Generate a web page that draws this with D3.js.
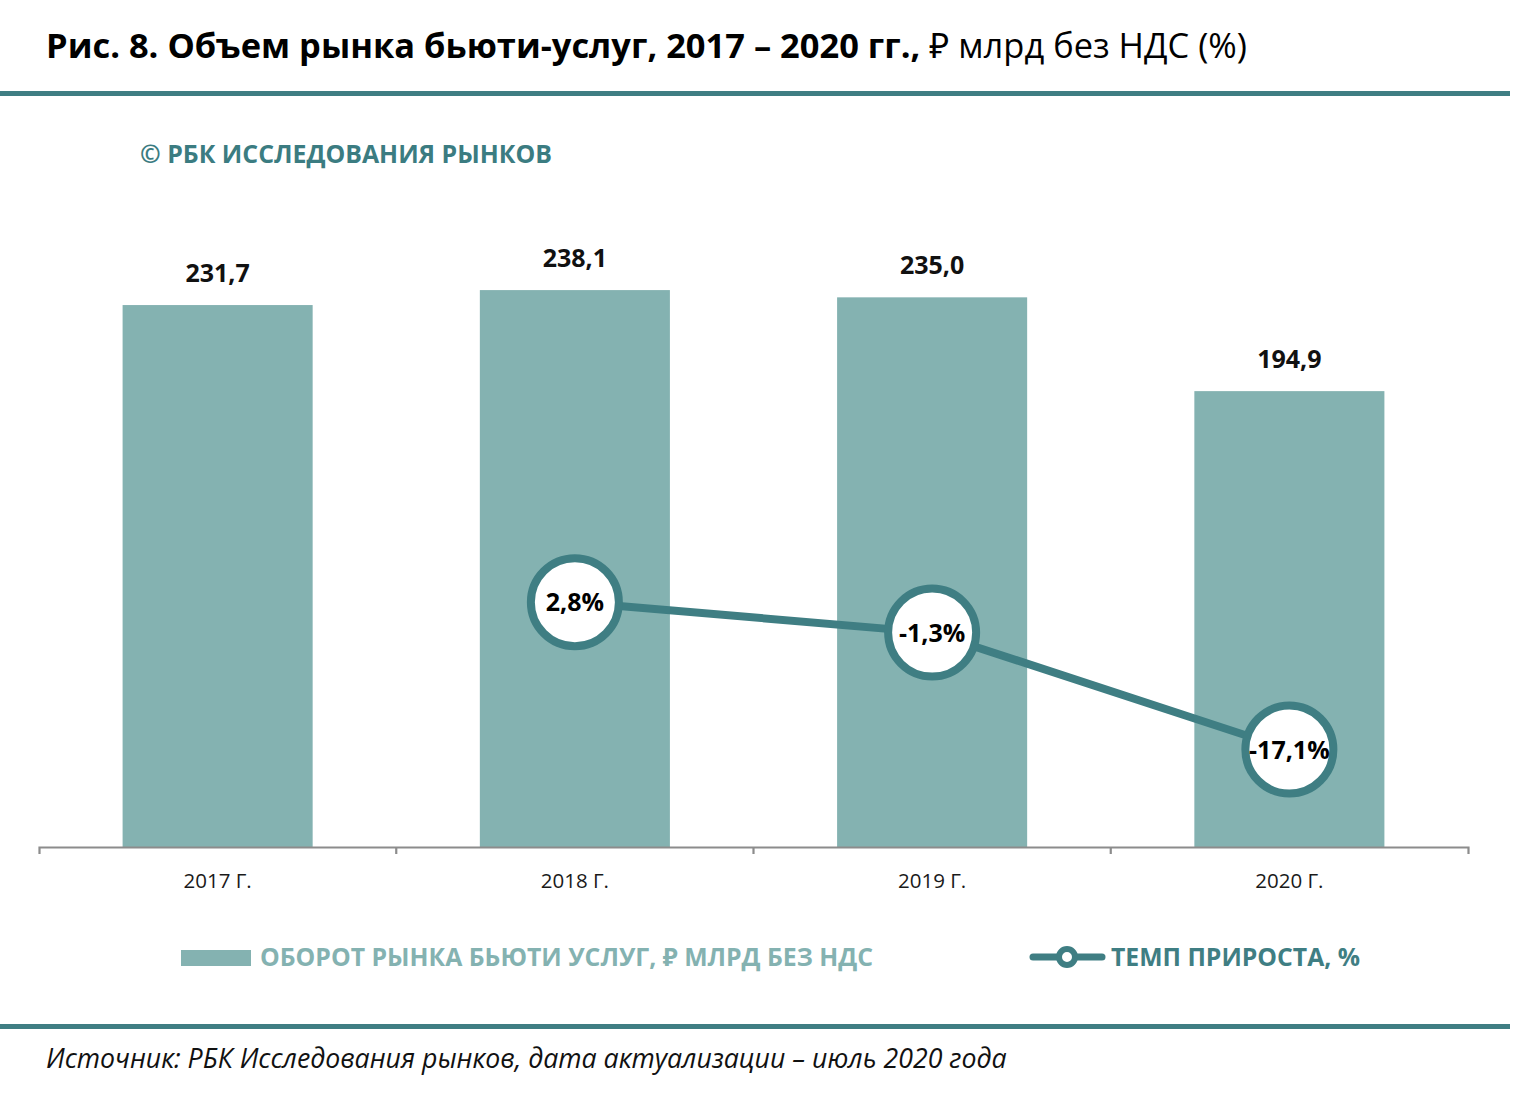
<!DOCTYPE html>
<html>
<head>
<meta charset="utf-8">
<script src="https://cdn.jsdelivr.net/npm/d3@7"></script>
<style>
  body { margin: 0; background: #fff; }
  svg { display: block; font-family: "Open Sans", "Noto Sans", sans-serif; }
</style>
</head>
<body>
<div id="chart"></div>
<script>
// Chart data
var years = ["2017 Г.", "2018 Г.", "2019 Г.", "2020 Г."];
var volume = [231.7, 238.1, 235.0, 194.9];
var growth = [null, 2.8, -1.3, -17.1];
var volumeLabels = ["231,7", "238,1", "235,0", "194,9"];
var growthLabels = ["", "2,8%", "-1,3%", "-17,1%"];

var svgWidth = 1540;
var svgHeight = 1104;

var barColor = "#84b2b1";
var tealDark = "#3f7e83";

var svg = d3.select("#chart").append("svg")
    .attr("width", svgWidth)
    .attr("height", svgHeight);

svg.append("rect")
    .attr("width", svgWidth)
    .attr("height", svgHeight)
    .attr("fill", "#fff");

// squeeze a text node into a given width if it runs too long
function fit(sel, w) {
    var node = sel.node();
    if (node.getComputedTextLength() > w) {
        sel.attr("textLength", w).attr("lengthAdjust", "spacingAndGlyphs");
    }
    return sel;
}

// Title
var title = svg.append("text")
    .attr("x", 46)
    .attr("y", 58)
    .attr("font-size", 34.5)
    .attr("fill", "#000");
title.append("tspan")
    .attr("font-weight", "bold")
    .text("Рис. 8. Объем рынка бьюти-услуг, 2017 – 2020 гг., ");
title.append("tspan")
    .text("₽ млрд без НДС (%)");
fit(title, 1201);

// rules
svg.append("rect").attr("x", 0).attr("y", 91).attr("width", 1510).attr("height", 5).attr("fill", tealDark);
svg.append("rect").attr("x", 0).attr("y", 1024).attr("width", 1510).attr("height", 5).attr("fill", tealDark);

// watermark
fit(svg.append("text")
    .attr("x", 140)
    .attr("y", 163)
    .attr("font-size", 25)
    .attr("font-weight", "bold")
    .attr("fill", "#3b7c81")
    .text("© РБК ИССЛЕДОВАНИЯ РЫНКОВ"), 412);

// Scales
var x = d3.scaleBand()
    .domain(years)
    .range([39, 1468])
    .paddingInner(0)
    .paddingOuter(0);

var barWidth = x.bandwidth() * 0.532;

var y = d3.scaleLinear()
    .domain([0, 300])
    .range([847, 145.3]);

var y2 = d3.scaleLinear()
    .domain([-30, 30])
    .range([845, 401]);

var chartGroup = svg.append("g");

// Bars
chartGroup.selectAll("rect.bar")
    .data(volume)
    .enter()
    .append("rect")
    .attr("class", "bar")
    .attr("x", (d, i) => x(years[i]) + x.bandwidth() / 2 - barWidth / 2)
    .attr("y", d => y(d))
    .attr("width", barWidth)
    .attr("height", d => y(0) - y(d))
    .attr("fill", barColor);

chartGroup.selectAll("text.vlabel")
    .data(volume)
    .enter()
    .append("text")
    .attr("class", "vlabel")
    .attr("x", (d, i) => x(years[i]) + x.bandwidth() / 2)
    .attr("y", d => y(d) - 23)
    .attr("text-anchor", "middle")
    .attr("font-size", 25)
    .attr("font-weight", "bold")
    .attr("fill", "#111")
    .text((d, i) => volumeLabels[i]);

// x axis
var bottomAxis = d3.axisBottom(x)
    .tickSizeInner(0)
    .tickSizeOuter(7)
    .tickPadding(26);

var xAxis = chartGroup.append("g")
    .attr("transform", `translate(0, ${y(0)})`)
    .call(bottomAxis);

xAxis.select(".domain")
    .attr("stroke", "#8c8c8c")
    .attr("stroke-width", 2.2);

xAxis.selectAll(".tick text")
    .attr("font-size", 20.5)
    .attr("font-family", "Open Sans, sans-serif")
    .attr("fill", "#1a1a1a");

// boundary ticks between categories
xAxis.selectAll("line.sep")
    .data(years.slice(1))
    .enter()
    .append("line")
    .attr("class", "sep")
    .attr("x1", d => x(d))
    .attr("x2", d => x(d))
    .attr("y1", 0)
    .attr("y2", 7)
    .attr("stroke", "#8c8c8c")
    .attr("stroke-width", 2.2);

// Growth line
var cx = (d, i) => x(years[i]) + x.bandwidth() / 2;

var line = d3.line()
    .defined(d => d !== null)
    .x((d, i) => cx(d, i))
    .y(d => y2(d));

chartGroup.append("path")
    .datum(growth)
    .attr("d", line)
    .attr("fill", "none")
    .attr("stroke", tealDark)
    .attr("stroke-width", 8);

var points = chartGroup.selectAll("g.pt")
    .data(growth.map((d, i) => ({ v: d, i: i })).filter(d => d.v !== null))
    .enter()
    .append("g")
    .attr("class", "pt")
    .attr("transform", d => `translate(${cx(d.v, d.i)}, ${y2(d.v)})`);

points.append("circle")
    .attr("r", 44)
    .attr("fill", "#fff")
    .attr("stroke", tealDark)
    .attr("stroke-width", 8);

points.append("text")
    .attr("y", 9)
    .attr("text-anchor", "middle")
    .attr("font-size", 25)
    .attr("font-weight", "bold")
    .attr("fill", "#000")
    .text(d => growthLabels[d.i]);

// Legend
var legend = svg.append("g");

legend.append("rect")
    .attr("x", 181)
    .attr("y", 950)
    .attr("width", 70)
    .attr("height", 16)
    .attr("fill", barColor);

fit(legend.append("text")
    .attr("x", 260)
    .attr("y", 966)
    .attr("font-size", 25)
    .attr("font-weight", "bold")
    .attr("fill", barColor)
    .text("ОБОРОТ РЫНКА БЬЮТИ УСЛУГ, ₽ МЛРД БЕЗ НДС"), 613);

legend.append("line")
    .attr("x1", 1033)
    .attr("x2", 1102)
    .attr("y1", 957)
    .attr("y2", 957)
    .attr("stroke", tealDark)
    .attr("stroke-width", 7)
    .attr("stroke-linecap", "round");

legend.append("circle")
    .attr("cx", 1067)
    .attr("cy", 957)
    .attr("r", 8)
    .attr("fill", "#fff")
    .attr("stroke", tealDark)
    .attr("stroke-width", 6);

fit(legend.append("text")
    .attr("x", 1111)
    .attr("y", 966)
    .attr("font-size", 25)
    .attr("font-weight", "bold")
    .attr("fill", tealDark)
    .text("ТЕМП ПРИРОСТА, %"), 249);

// Source
fit(svg.append("text")
    .attr("x", 46)
    .attr("y", 1068)
    .attr("font-size", 26.7)
    .attr("font-style", "italic")
    .attr("fill", "#111")
    .text("Источник: РБК Исследования рынков, дата актуализации – июль 2020 года"), 962);
</script>
</body>
</html>
